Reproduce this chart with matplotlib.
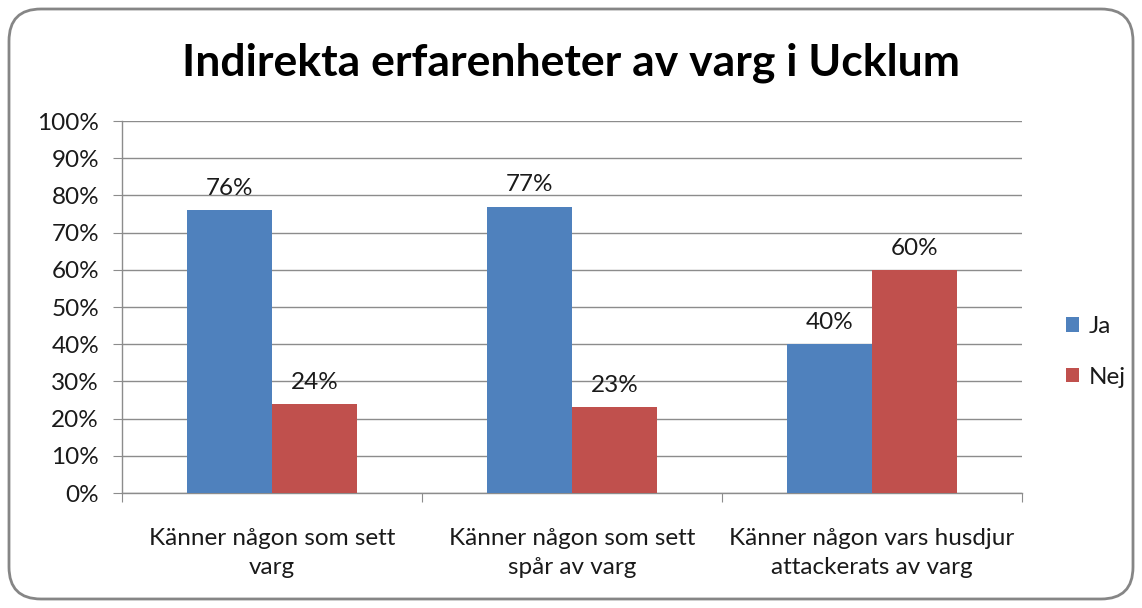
import matplotlib
matplotlib.use("Agg")
import matplotlib.pyplot as plt
from matplotlib.patches import FancyBboxPatch, Patch
import numpy as np

categories = ["Känner någon som sett\nvarg", "Känner någon som sett\nspår av varg", "Känner någon vars husdjur\nattackerats av varg"]
ja = [76, 77, 40]
nej = [24, 23, 60]
series_names = ["Ja", "Nej"]
title = "Indirekta erfarenheter av varg i Ucklum"

plt.rcParams['font.family'] = ['Lato', 'DejaVu Sans']

fig = plt.figure(figsize=(11.42, 6.08), dpi=100)
fig.patch.set_facecolor("white")

border = FancyBboxPatch((9/1142, 9/608), 1124/1142, 590/608,
                        boxstyle="round,pad=0,rounding_size=0.028",
                        transform=fig.transFigure, facecolor="white",
                        edgecolor="#868686", linewidth=2, mutation_aspect=1142/608,
                        zorder=0)
fig.patches.append(border)

ax = fig.add_axes([122/1142, 1-493/608, 900/1142, 372/608])
ax.set_facecolor("none")
ax.set_zorder(2)

blue = "#4F81BD"
red = "#C0504D"
tc = "#1a1a1a"
fs = 17.5
x = np.arange(len(categories))
w = 0.2833
b1 = ax.bar(x - w/2, ja, w, color=blue, zorder=3)
b2 = ax.bar(x + w/2, nej, w, color=red, zorder=3)

for bars, vals in ((b1, ja), (b2, nej)):
    for r, v in zip(bars, vals):
        ax.text(r.get_x() + r.get_width()/2, v + 3.0, f"{v}%", ha="center", va="bottom",
                fontsize=fs, color=tc)

ax.set_xlim(-0.5, 2.5)
ax.set_ylim(0, 100)
ax.set_yticks(np.arange(0, 101, 10))
ax.set_yticklabels([f"{t}%" for t in range(0, 101, 10)], fontsize=fs, color=tc)
ax.yaxis.grid(True, color="#8c8c8c", linewidth=1, zorder=0)
ax.set_axisbelow(True)
ax.tick_params(axis="y", length=6.5, color="#8c8c8c", pad=10)

ax.set_xticks([-0.5, 0.5, 1.5, 2.5])
ax.set_xticklabels([])
ax.tick_params(axis="x", length=6.5, color="#8c8c8c", direction="out")
for i, c in enumerate(categories):
    ax.text(i, -9.3, c, ha="center", va="top", fontsize=fs, color=tc,
            linespacing=1.5)

for s in ["top", "right"]:
    ax.spines[s].set_visible(False)
for s in ["left", "bottom"]:
    ax.spines[s].set_color("#8c8c8c")
    ax.spines[s].set_linewidth(1)

fig.text(0.5, 1-63/608, title, ha="center", va="center", fontsize=32, fontweight="bold", color="black")

handles = [Patch(facecolor=blue), Patch(facecolor=red)]
leg = fig.legend(handles, series_names, loc="center left", bbox_to_anchor=(1044/1142, 1-352/608),
                 frameon=False, fontsize=fs, handlelength=0.55, handleheight=0.55,
                 handletextpad=0.4, labelspacing=1.2)
for t in leg.get_texts():
    t.set_color(tc)

fig.savefig("out.png", dpi=100)
